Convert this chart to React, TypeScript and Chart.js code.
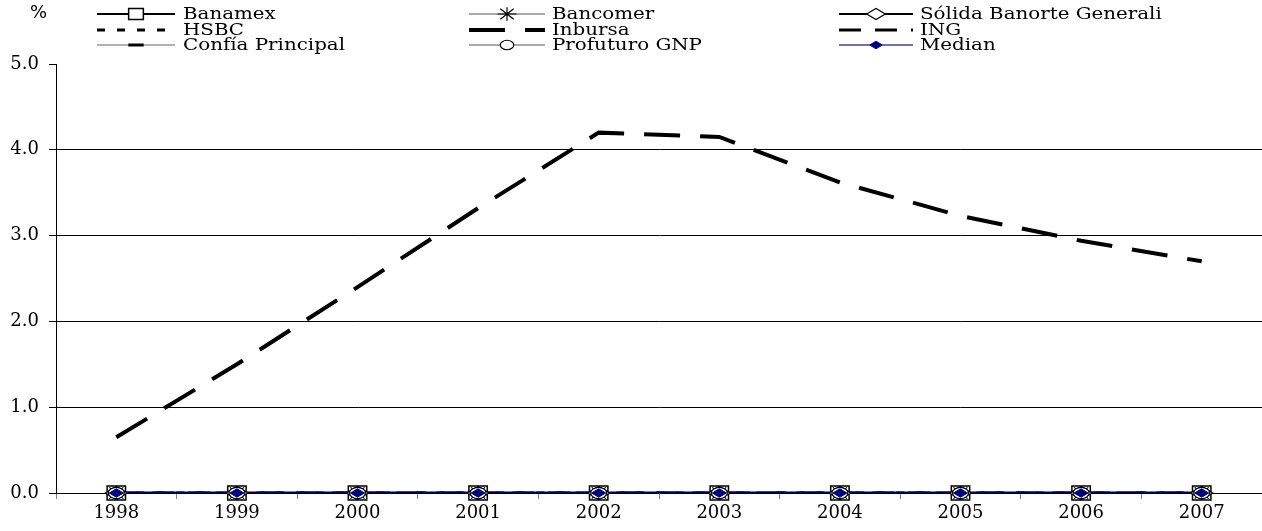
import React, { useEffect, useRef } from 'react';
import { Chart, registerables } from 'chart.js';

Chart.register(...registerables);

const years = ['1998', '1999', '2000', '2001', '2002', '2003', '2004', '2005', '2006', '2007'];
const banamex = [0, 0, 0, 0, 0, 0, 0, 0, 0, 0];
const bancomer = [0, 0, 0, 0, 0, 0, 0, 0, 0, 0];
const solida = [0, 0, 0, 0, 0, 0, 0, 0, 0, 0];
const hsbc = [0, 0, 0, 0, 0, 0, 0, 0, 0, 0];
const inbursa = [0.65, 1.5, 2.4, 3.32, 4.2, 4.15, 3.62, 3.23, 2.94, 2.7];
const ing = [0, 0, 0, 0, 0, 0, 0, 0, 0, 0];
const confia = [0, 0, 0, 0, 0, 0, 0, 0, 0, 0];
const profuturo = [0, 0, 0, 0, 0, 0, 0, 0, 0, 0];
const median = [0, 0, 0, 0, 0, 0, 0, 0, 0, 0];
const yTicks = [0, 1, 2, 3, 4, 5];
const unitLabel = '%';

const SERIF = "'DejaVu Serif', 'Liberation Serif', serif";

type Style = {
  label: string;
  data: number[];
  color: string;
  legendColor: string;
  lw: number;
  legendLw: number;
  dash: number[];
  marker: string | false;
  mRadius: number;
  legendScale: number;
  mFill: string;
  mBorder: string;
  mLw: number;
  order: number;
};

const series: Style[] = [
  { label: 'Banamex', data: banamex, color: '#000', legendColor: '#000', lw: 2, legendLw: 2, dash: [], marker: 'rect', mRadius: 13, legendScale: 0.8, mFill: '#fff', mBorder: '#000', mLw: 1.5, order: 8 },
  { label: 'Bancomer', data: bancomer, color: '#222', legendColor: '#555', lw: 1, legendLw: 1, dash: [], marker: 'star', mRadius: 10, legendScale: 0.95, mFill: '#000', mBorder: '#000', mLw: 1.2, order: 7 },
  { label: 'Sólida Banorte Generali', data: solida, color: '#000', legendColor: '#000', lw: 2, legendLw: 2, dash: [], marker: 'rectRot', mRadius: 11, legendScale: 0.85, mFill: '#fff', mBorder: '#000', mLw: 1.2, order: 6 },
  { label: 'HSBC', data: hsbc, color: '#000', legendColor: '#000', lw: 3, legendLw: 3, dash: [8, 12], marker: false, mRadius: 0, legendScale: 1, mFill: '#000', mBorder: '#000', mLw: 1, order: 5 },
  { label: 'Inbursa', data: inbursa, color: '#000', legendColor: '#000', lw: 4, legendLw: 4, dash: [36, 20], marker: false, mRadius: 0, legendScale: 1, mFill: '#000', mBorder: '#000', mLw: 1, order: 1 },
  { label: 'ING', data: ing, color: '#000', legendColor: '#000', lw: 3, legendLw: 3, dash: [22, 14], marker: false, mRadius: 0, legendScale: 1, mFill: '#000', mBorder: '#000', mLw: 1, order: 4 },
  { label: 'Confía Principal', data: confia, color: '#333', legendColor: '#666', lw: 1, legendLw: 1, dash: [], marker: 'line', mRadius: 7, legendScale: 1.1, mFill: '#000', mBorder: '#000', mLw: 3, order: 3 },
  { label: 'Profuturo GNP', data: profuturo, color: '#222', legendColor: '#555', lw: 1, legendLw: 1, dash: [], marker: 'circle', mRadius: 8, legendScale: 0.85, mFill: '#fff', mBorder: '#000', mLw: 1.2, order: 2 },
  { label: 'Median', data: median, color: '#000060', legendColor: '#4444a0', lw: 3, legendLw: 1.5, dash: [], marker: 'rectRot', mRadius: 7, legendScale: 0.9, mFill: '#000080', mBorder: '#000080', mLw: 1, order: 0 },
];

function drawMarker(ctx: CanvasRenderingContext2D, s: Style, x: number, y: number, scale = 1) {
  if (!s.marker) return;
  const r = s.mRadius * scale;
  ctx.save();
  ctx.setLineDash([]);
  ctx.fillStyle = s.mFill;
  ctx.strokeStyle = s.mBorder;
  ctx.lineWidth = s.mLw;
  ctx.beginPath();
  if (s.marker === 'rect') {
    const h = r * Math.SQRT1_2;
    ctx.rect(x - h, y - h * 0.75, 2 * h, 1.5 * h);
    ctx.fill();
    ctx.stroke();
  } else if (s.marker === 'rectRot') {
    ctx.moveTo(x - r, y);
    ctx.lineTo(x, y - r * 0.6);
    ctx.lineTo(x + r, y);
    ctx.lineTo(x, y + r * 0.6);
    ctx.closePath();
    ctx.fill();
    ctx.stroke();
  } else if (s.marker === 'circle') {
    ctx.ellipse(x, y, r, r * 0.7, 0, 0, Math.PI * 2);
    ctx.fill();
    ctx.stroke();
  } else if (s.marker === 'star') {
    const h = r * 0.7;
    const v = r * 0.7;
    ctx.moveTo(x - r, y); ctx.lineTo(x + r, y);
    ctx.moveTo(x - h, y - v * 0.8); ctx.lineTo(x + h, y + v * 0.8);
    ctx.moveTo(x - h, y + v * 0.8); ctx.lineTo(x + h, y - v * 0.8);
    ctx.moveTo(x, y - v); ctx.lineTo(x, y + v);
    ctx.stroke();
  } else if (s.marker === 'line') {
    ctx.moveTo(x - r, y); ctx.lineTo(x + r, y);
    ctx.stroke();
  }
  ctx.restore();
}

const legendPlugin = {
  id: 'customLegend',
  afterDraw(chart: Chart) {
    const ctx = chart.ctx;
    ctx.save();
    ctx.fillStyle = '#000';
    ctx.font = "18px 'DejaVu Sans', sans-serif";
    ctx.textAlign = 'left';
    ctx.textBaseline = 'middle';
    ctx.fillText(unitLabel, 30, 13);

    const cols = [
      { x0: 97, x1: 175, tx: 183 },
      { x0: 469, x1: 545, tx: 552 },
      { x0: 839, x1: 913, tx: 920 },
    ];
    const rows = [14, 30, 45];
    series.forEach((s, i) => {
      const c = cols[i % 3];
      const y = rows[Math.floor(i / 3)];
      ctx.save();
      ctx.strokeStyle = s.legendColor;
      ctx.lineWidth = s.legendLw;
      ctx.setLineDash(s.dash);
      ctx.beginPath();
      ctx.moveTo(c.x0, y);
      ctx.lineTo(c.x1, y);
      ctx.stroke();
      ctx.restore();
      drawMarker(ctx, s, (c.x0 + c.x1) / 2, y, s.legendScale);
      ctx.save();
      ctx.fillStyle = '#000';
      ctx.font = `16px ${SERIF}`;
      ctx.textAlign = 'left';
      ctx.textBaseline = 'middle';
      ctx.translate(c.tx, y + 1);
      ctx.scale(1.24, 1);
      ctx.fillText(s.label, 0, 0);
      ctx.restore();
    });
    ctx.restore();
  },
};

const markerPlugin = {
  id: 'customMarkers',
  afterDatasetsDraw(chart: Chart) {
    const ctx = chart.ctx;
    const order = series
      .map((s, i) => ({ s, i }))
      .sort((a, b) => b.s.order - a.s.order);
    order.forEach(({ s, i }) => {
      if (!s.marker) return;
      const meta = chart.getDatasetMeta(i);
      meta.data.forEach((pt: any) => drawMarker(ctx, s, pt.x, pt.y, 1));
    });
  },
};

export default function App() {
  const ref = useRef<HTMLCanvasElement | null>(null);

  useEffect(() => {
    if (!ref.current) return;
    document.body.style.margin = '0';
    const chart = new Chart(ref.current, {
      type: 'line',
      data: {
        labels: years,
        datasets: series.map((s) => ({
          label: s.label,
          data: s.data,
          borderColor: s.color,
          borderWidth: s.lw,
          borderDash: s.dash,
          pointRadius: 0,
          pointHoverRadius: 0,
          fill: false,
          tension: 0,
          order: s.order,
        })),
      },
      options: {
        animation: false,
        responsive: false,
        devicePixelRatio: 1,
        events: [],
        layout: { padding: { top: 64, right: 0, left: 0, bottom: 0 } },
        plugins: {
          legend: { display: false },
          tooltip: { enabled: false },
          title: { display: false },
        },
        scales: {
          x: {
            type: 'category',
            offset: true,
            grid: {
              offset: true,
              drawOnChartArea: false,
              drawTicks: true,
              tickLength: 6,
              tickColor: '#808080',
              color: '#808080',
            },
            border: { display: true, color: '#000', width: 1 },
            ticks: {
              color: '#000',
              font: { family: SERIF, size: 18 },
              padding: 4,
              maxRotation: 0,
              autoSkip: false,
            },
            afterFit(scale: any) {
              scale.height = 38;
            },
          },
          y: {
            min: 0,
            max: 5,
            afterBuildTicks(scale: any) {
              scale.ticks = yTicks.map((v) => ({ value: v }));
            },
            grid: {
              color: (c: any) => (c.tick && (c.tick.value === 5 || c.tick.value === 0) ? 'rgba(0,0,0,0)' : '#000'),
              tickColor: '#000',
              lineWidth: 1,
              drawTicks: true,
              tickLength: 7,
            },
            border: { display: true, color: '#000', width: 1 },
            ticks: {
              color: '#000',
              font: { family: SERIF, size: 18 },
              padding: 10,
              callback: (v: any) => Number(v).toFixed(1),
            },
            afterFit(scale: any) {
              scale.width = 56;
            },
          },
        },
      },
      plugins: [markerPlugin, legendPlugin],
    });
    return () => chart.destroy();
  }, []);

  return (
    <div style={{ position: 'absolute', left: 0, top: 0, width: 1262, height: 531, background: '#fff' }}>
      <canvas ref={ref} width={1262} height={531} style={{ display: 'block' }} />
    </div>
  );
}
